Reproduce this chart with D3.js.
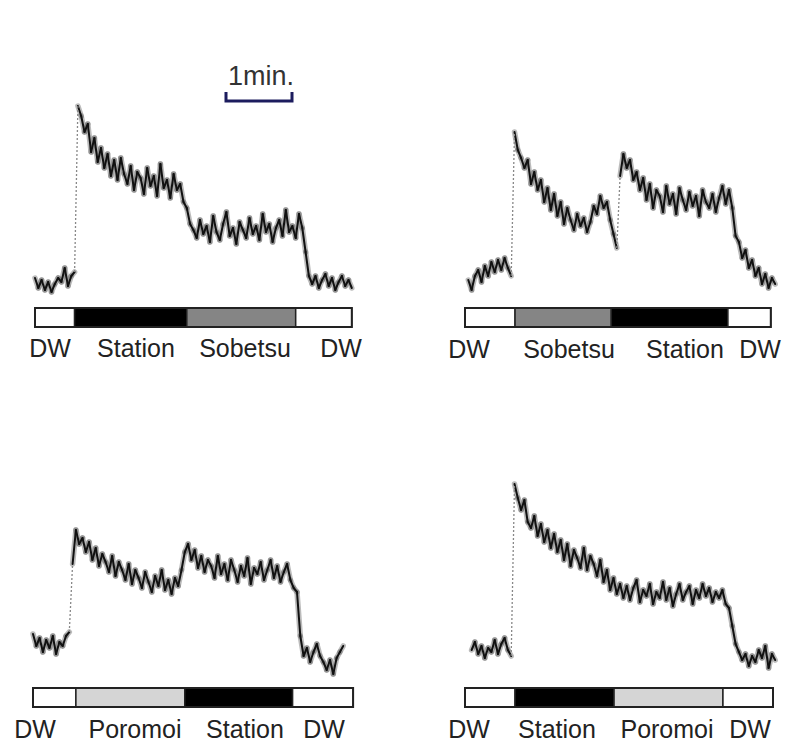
<!DOCTYPE html>
<html>
<head>
<meta charset="utf-8">
<script src="https://cdn.jsdelivr.net/npm/d3@7"></script>
<style>
  body { margin: 0; background: #fff; }
  svg text { font-family: "Liberation Sans", Arial, sans-serif; fill: #222; }
</style>
</head>
<body>
<div id="chart"></div>
<script>
"use strict";

// sampling step of every trace, seconds
var STEP = 3;

// top left: DW -> Station -> Sobetsu -> DW
var segNamesA = ["DW", "Station", "Sobetsu", "DW"];
var segEdgesA = [0, 36, 138, 237, 288];
var startA = 0;
var valuesA = [11, 6, 10, 5, 9, 4, 8, 11, 9, 16, 7, 12,
  14, 97,
  92, 84, 88, 74, 81, 69, 76, 66, 73, 62, 70, 60, 71, 63, 58, 67, 55, 64, 61, 53,
  66, 57, 62, 52, 68, 56, 60, 51, 63, 55, 58, 49,
  46, 38,
  35, 31, 40, 33, 37, 29, 42, 34, 30, 38, 44, 32, 36, 28, 39, 35, 31, 41, 33, 37,
  30, 43, 34, 38, 29, 36, 40, 32, 45, 34, 37, 31, 43,
  36, 24, 12,
  8, 12, 6, 10, 13, 7, 11, 5, 9, 12, 7, 10, 6];

// top right: DW -> Sobetsu -> Station -> DW
var segNamesB = ["DW", "Sobetsu", "Station", "DW"];
var segEdgesB = [0, 45.5, 133, 239, 278];
var startB = 3;
var valuesB = [10, 5, 12, 15, 9, 17, 12, 19, 14, 20, 15, 21, 16, 12,
  84,
  75, 71, 66, 70, 58, 64, 55, 60, 49, 56, 45, 53, 42, 49, 38, 46, 40, 35, 43, 37,
  41, 34, 39, 47, 43, 52, 46, 49, 40,
  33, 26, 62, 73,
  66, 70, 60, 64, 55, 61, 50, 58, 46, 55, 52, 44, 57, 48, 53, 43, 56, 50, 45, 54,
  47, 52, 42, 55, 49, 46, 53, 44, 51, 57, 48, 55, 46,
  32,
  29, 21, 25, 16, 20, 12, 16, 8, 13, 6, 11, 8];

// bottom left: DW -> Poromoi -> Station -> DW
var segNamesC = ["DW", "Poromoi", "Station", "DW"];
var segEdgesC = [0, 39, 138, 236, 291];
var startC = 0;
var valuesC = [23, 17, 21, 14, 20, 16, 22, 13, 19, 17, 22, 24,
  58, 75,
  68, 71, 64, 69, 60, 66, 57, 63, 59, 54, 62, 52, 59, 55, 50, 58, 48, 55, 51, 46,
  54, 49, 44, 52, 47, 55, 45, 50, 43, 51, 47,
  55, 64, 68,
  60, 65, 56, 62, 54, 60, 57, 51, 62, 53, 58, 50, 60, 55, 49, 57, 52, 61, 48, 56,
  53, 59, 50, 55, 60, 51, 57, 49, 54, 58, 50, 46,
  44, 22, 12,
  16, 9, 14, 18, 12, 9, 5, 10, 3, 11, 14, 17];

// bottom right: DW -> Station -> Poromoi -> DW
var segNamesD = ["DW", "Station", "Poromoi", "DW"];
var segEdgesD = [0, 45.5, 135.5, 234.5, 280];
var startD = 6;
var valuesD = [15, 19, 13, 17, 11, 16, 14, 20, 13, 18, 21, 15, 12,
  98,
  91, 85, 90, 79, 76, 82, 72, 78, 69, 75, 66, 73, 64, 70, 60, 68, 57, 65, 61, 56,
  66, 55, 62, 58, 52, 60, 49, 55, 45, 51, 43, 48, 41, 47, 40, 46, 50, 39, 45, 42,
  48, 38, 44, 41, 49, 40, 46, 37, 43, 48, 40, 44, 47, 38, 45, 41, 48, 42, 46, 39,
  44, 41, 45, 38,
  36, 27, 18,
  14, 10, 13, 7, 12, 9, 15, 11, 17, 6, 13, 10];

var segColor = { "DW": "#ffffff", "Station": "#000000", "Sobetsu": "#858585", "Poromoi": "#d5d5d5" };

// layout of the four panels (pixels)
var panels = [
  { names: segNamesA, edges: segEdgesA, start: startA, values: valuesA,
    left: 35, barTop: 308, yZero: 300, labelBase: 357, labelX: [50, 136, 245, 341] },
  { names: segNamesB, edges: segEdgesB, start: startB, values: valuesB,
    left: 465, barTop: 308, yZero: 300, labelBase: 358, labelX: [469, 569, 685, 760] },
  { names: segNamesC, edges: segEdgesC, start: startC, values: valuesC,
    left: 33, barTop: 688, yZero: 680, labelBase: 738, labelX: [35, 135, 245, 324] },
  { names: segNamesD, edges: segEdgesD, start: startD, values: valuesD,
    left: 465, barTop: 688, yZero: 680, labelBase: 738, labelX: [469, 557, 667, 750] }
];

var width = 802, height = 746;
var pxPerSec = 66 / 60;   // the 1 min. bar is 66 px long
var barHeight = 19;

var svg = d3.select('#chart')
            .append('svg')
            .attr('width', width)
            .attr('height', height);

function isJump(d) {
  return Math.abs(d[1][1] - d[0][1]) > 50;
}

panels.forEach(function(p) {
  var end = p.edges[p.edges.length - 1];
  var x = d3.scaleLinear()
            .domain([0, end])
            .range([p.left, p.left + end * pxPerSec]);
  var y = d3.scaleLinear()
            .domain([0, 100])
            .range([p.yZero, p.yZero - 200]);

  var g = svg.append('g');

  var pts = p.values.map(function(v, i) {
    return [x(p.start + i * STEP), y(v)];
  });

  var steady = d3.pairs(pts).filter(function(d) { return !isJump(d); });
  var jumps = d3.pairs(pts).filter(isJump);

  // fuzzy halo under the trace
  g.selectAll('.halo')
    .data(steady)
  .enter().append('line')
    .attr('x1', function(d) { return d[0][0]; })
    .attr('y1', function(d) { return d[0][1]; })
    .attr('x2', function(d) { return d[1][0]; })
    .attr('y2', function(d) { return d[1][1]; })
    .attr('stroke', '#555')
    .attr('stroke-opacity', 0.4)
    .attr('stroke-width', 5.5)
    .attr('stroke-linecap', 'round');

  g.selectAll('.seg')
    .data(steady)
  .enter().append('line')
    .attr('x1', function(d) { return d[0][0]; })
    .attr('y1', function(d) { return d[0][1]; })
    .attr('x2', function(d) { return d[1][0]; })
    .attr('y2', function(d) { return d[1][1]; })
    .attr('stroke', '#111')
    .attr('stroke-width', 2)
    .attr('stroke-linecap', 'round');

  // fast rises and falls show as a faint dotted line
  g.selectAll('.jump')
    .data(jumps)
  .enter().append('line')
    .attr('x1', function(d) { return d[0][0]; })
    .attr('y1', function(d) { return d[0][1]; })
    .attr('x2', function(d) { return d[1][0]; })
    .attr('y2', function(d) { return d[1][1]; })
    .attr('stroke', '#888')
    .attr('stroke-width', 1.3)
    .attr('stroke-dasharray', '2,2');

  // condition bar
  var segs = p.names.map(function(n, i) {
    return { name: n, t0: p.edges[i], t1: p.edges[i + 1] };
  });

  g.selectAll('.cond')
    .data(segs)
  .enter().append('rect')
    .attr('x', function(d) { return x(d.t0); })
    .attr('y', p.barTop)
    .attr('width', function(d) { return x(d.t1) - x(d.t0); })
    .attr('height', barHeight)
    .attr('fill', function(d) { return segColor[d.name]; })
    .attr('stroke', '#222')
    .attr('stroke-width', 1.5);

  g.append('rect')
    .attr('x', x(0))
    .attr('y', p.barTop)
    .attr('width', x(end) - x(0))
    .attr('height', barHeight)
    .attr('fill', 'none')
    .attr('stroke', '#222')
    .attr('stroke-width', 2);

  g.selectAll('.lbl')
    .data(segs)
  .enter().append('text')
    .attr('x', function(d, i) { return p.labelX[i]; })
    .attr('y', p.labelBase)
    .attr('text-anchor', 'middle')
    .attr('font-size', 25)
    .text(function(d) { return d.name; });
});

// 1 min scale bar
var sx = d3.scaleLinear().domain([0, 60]).range([226, 226 + 60 * pxPerSec]);
svg.append('path')
  .attr('d', 'M' + sx(0) + ',92 V101 H' + sx(60) + ' V92')
  .attr('fill', 'none')
  .attr('stroke', '#1c1c5e')
  .attr('stroke-width', 3);

svg.append('text')
  .attr('x', sx(30) + 2)
  .attr('y', 85)
  .attr('text-anchor', 'middle')
  .attr('font-size', 27)
  .style('fill', '#333')
  .text('1min.');
</script>
</body>
</html>
